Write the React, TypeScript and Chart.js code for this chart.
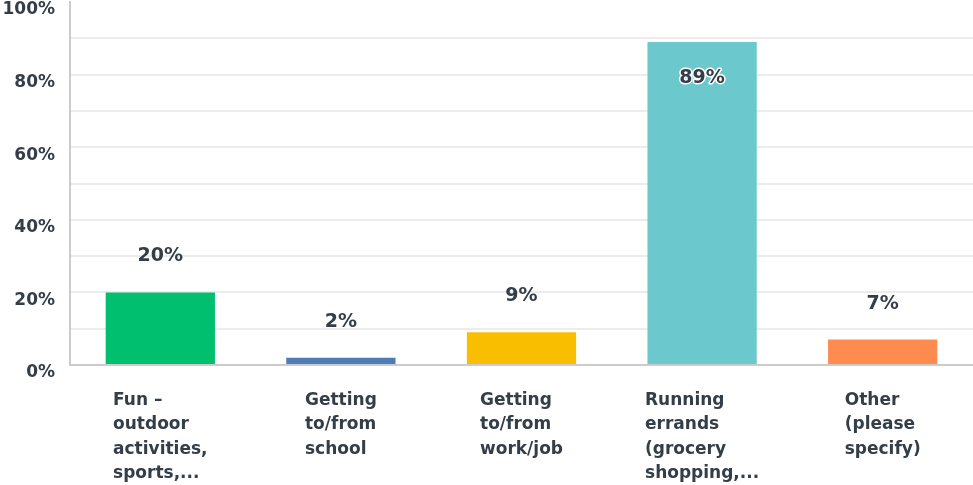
import React, { useEffect, useRef } from "react";
import { Chart, registerables } from "chart.js";

Chart.register(...registerables);

const categories: string[][] = [
  ["Fun –", "outdoor", "activities,", "sports,..."],
  ["Getting", "to/from", "school"],
  ["Getting", "to/from", "work/job"],
  ["Running", "errands", "(grocery", "shopping,..."],
  ["Other", "(please", "specify)"],
];
const values: number[] = [20, 2, 9, 89, 7];
const barColors: string[] = ["#00bf6f", "#507cb6", "#f9be00", "#6bc8cd", "#ff8b4f"];
const yTickValues: number[] = [0, 20, 40, 60, 80, 100];

const TEXT = "#333e48";
const FONT = '"DejaVu Sans", sans-serif';

const valueLabelPlugin = {
  id: "valueLabels",
  afterDatasetsDraw(chart: any) {
    const ctx = chart.ctx;
    const meta = chart.getDatasetMeta(0);
    meta.data.forEach((bar: any, i: number) => {
      const v = values[i];
      const text = Math.round(v) + "%";
      const inside = v > 80;
      const y = inside ? bar.y + 36 : bar.y - 36;
      ctx.save();
      ctx.font = `bold 19px ${FONT}`;
      ctx.textAlign = "center";
      ctx.textBaseline = "middle";
      if (inside) {
        ctx.lineWidth = 3;
        ctx.lineJoin = "round";
        ctx.strokeStyle = "#ffffff";
        ctx.strokeText(text, bar.x, y);
      }
      ctx.fillStyle = TEXT;
      ctx.fillText(text, bar.x, y);
      ctx.restore();
    });
  },
};

const xLabelPlugin = {
  id: "xLabels",
  afterDraw(chart: any) {
    const ctx = chart.ctx;
    const xs = chart.scales.x;
    const bottom = chart.chartArea.bottom;
    ctx.save();
    ctx.font = `bold 17px ${FONT}`;
    ctx.fillStyle = TEXT;
    ctx.textAlign = "left";
    ctx.textBaseline = "alphabetic";
    categories.forEach((lines, i) => {
      const cx = xs.getPixelForValue(i);
      const w = Math.max(...lines.map((l) => ctx.measureText(l).width));
      const left = cx - w / 2;
      lines.forEach((line, j) => {
        ctx.fillText(line, left, bottom + 39.5 + j * 24.5);
      });
    });
    ctx.restore();
  },
};

export default function App() {
  const ref = useRef<HTMLCanvasElement | null>(null);
  useEffect(() => {
    if (!ref.current) return;
    const chart = new Chart(ref.current, {
      type: "bar",
      data: {
        labels: categories.map((c) => c.join(" ")),
        datasets: [
          {
            data: values,
            backgroundColor: barColors,
            barPercentage: 0.605,
            categoryPercentage: 1,
          },
        ],
      },
      options: {
        responsive: false,
        animation: false,
        layout: { autoPadding: false, padding: { top: 2, right: 0, left: 0, bottom: 0 } },
        plugins: {
          legend: { display: false },
          tooltip: { enabled: false },
        },
        scales: {
          x: {
            grid: { display: false },
            border: { display: true, color: "#cccccc", width: 2 },
            ticks: { display: false },
            afterFit: (s: any) => {
              s.height = 120;
              s.paddingLeft = 0;
              s.paddingRight = 0;
            },
          },
          y: {
            min: 0,
            max: 100,
            grid: {
              color: (c: any) => (c.tick && c.tick.value === 100 ? "rgba(0,0,0,0)" : "#ececec"),
              lineWidth: 2,
              drawTicks: false,
            },
            border: { display: true, color: "#cccccc", width: 2 },
            ticks: {
              stepSize: 10,
              padding: 15,
              labelOffset: 8,
              color: TEXT,
              font: { family: FONT, size: 17, weight: "bold" },
              callback: (v: any) => (yTickValues.includes(Number(v)) ? v + "%" : ""),
            },
            afterFit: (s: any) => {
              s.width = 70;
              s.paddingTop = 0;
              s.paddingBottom = 0;
            },
          },
        },
      },
      plugins: [valueLabelPlugin, xLabelPlugin],
    });
    return () => chart.destroy();
  }, []);
  return (
    <div style={{ position: "fixed", left: 0, top: 0, width: 973, height: 485, background: "#fff" }}>
      <canvas ref={ref} width={973} height={485} style={{ display: "block" }} />
    </div>
  );
}
